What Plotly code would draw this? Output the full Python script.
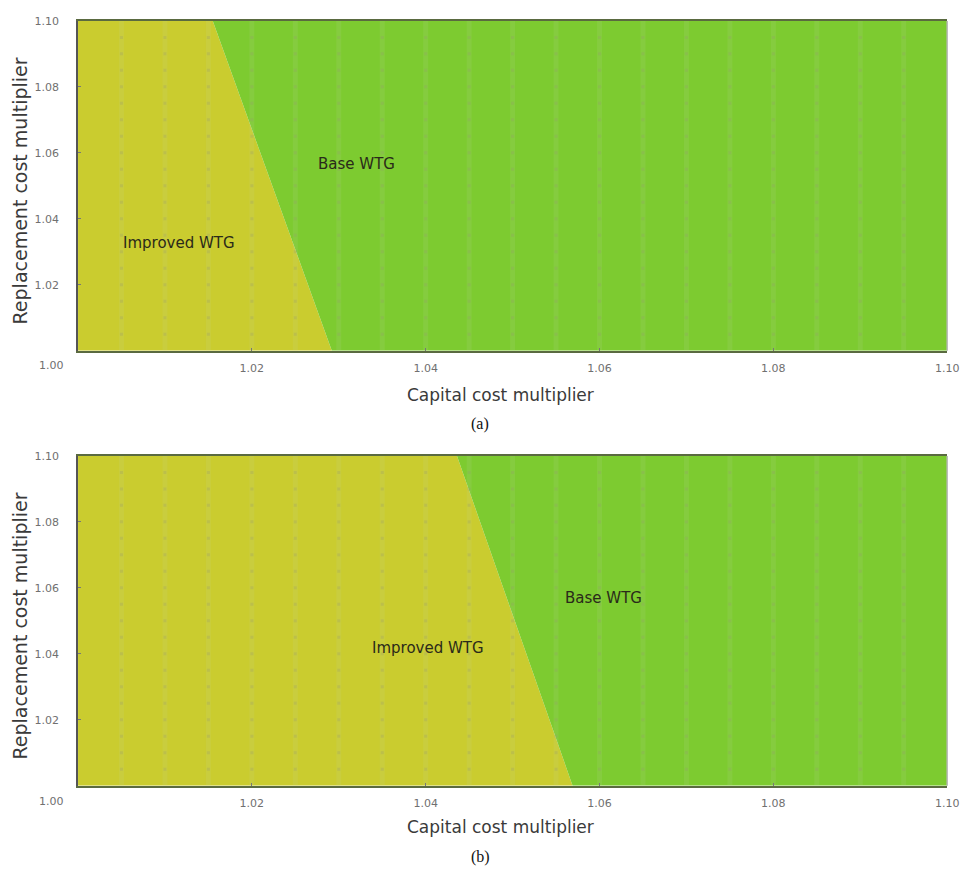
import numpy as np
import plotly.graph_objects as go

# Axis ranges and ticks
x_range = [1.00, 1.10]
y_range = [1.00, 1.10]
tick_vals = [1.02, 1.04, 1.06, 1.08, 1.10]
tick_text = ["1.02", "1.04", "1.06", "1.08", "1.10"]

# Boundary between the two preferred designs (capital cost multiplier at which
# the preference switches), given at replacement multipliers 1.00 and 1.10
boundary_repl = [1.00, 1.10]
boundary_cap_a = [1.0292, 1.0155]
boundary_cap_b = [1.0569, 1.0436]

# Region labels: (text, capital multiplier, replacement multiplier)
labels_a = [("Base WTG", 1.0320, 1.0566), ("Improved WTG", 1.0116, 1.0325)]
labels_b = [("Base WTG", 1.0605, 1.0569), ("Improved WTG", 1.0403, 1.0416)]

# Sampling grid of the sensitivity run
grid_step = 0.005

YELLOW = "#CACC2F"
GREEN = "#7DCB30"
FONT = "DejaVu Sans"

fig = go.Figure()


def add_panel(xref, yref, cap_bound):
    # Improved WTG region (left of boundary)
    xs = [x_range[0], cap_bound[0], cap_bound[1], x_range[0], x_range[0]]
    ys = [boundary_repl[0], boundary_repl[0], boundary_repl[1], boundary_repl[1], boundary_repl[0]]
    fig.add_trace(go.Scatter(x=xs, y=ys, fill="toself", fillcolor=YELLOW, mode="lines",
                             line=dict(width=0, color=YELLOW), hoverinfo="skip",
                             showlegend=False, xaxis=xref, yaxis=yref))
    # Base WTG region (right of boundary)
    xs = [cap_bound[0], x_range[1], x_range[1], cap_bound[1], cap_bound[0]]
    fig.add_trace(go.Scatter(x=xs, y=ys, fill="toself", fillcolor=GREEN, mode="lines",
                             line=dict(width=0, color=GREEN), hoverinfo="skip",
                             showlegend=False, xaxis=xref, yaxis=yref))
    # Faint vertical stripes at each sampled capital multiplier
    gx = np.arange(x_range[0] + grid_step, x_range[1] - 1e-9, grid_step)
    lx, ly = [], []
    for v in gx:
        lx += [v, v, None]
        ly += [y_range[0], y_range[1], None]
    fig.add_trace(go.Scatter(x=lx, y=ly, mode="lines",
                             line=dict(width=5, color="rgba(200,210,170,0.12)"),
                             hoverinfo="skip", showlegend=False, xaxis=xref, yaxis=yref))
    # Sample points
    gy = np.arange(y_range[0] + grid_step, y_range[1] - 1e-9, grid_step)
    px, py = np.meshgrid(gx, gy)
    fig.add_trace(go.Scatter(x=px.ravel(), y=py.ravel(), mode="markers",
                             marker=dict(symbol="square", size=3, color="rgba(150,150,110,0.25)"),
                             hoverinfo="skip", showlegend=False, xaxis=xref, yaxis=yref))


add_panel("x", "y", boundary_cap_a)
add_panel("x2", "y2", boundary_cap_b)

dom_x = [79 / 974, 959 / 974]
dom_a = [1 - 347 / 881, 1 - 15 / 881]
dom_b = [1 - 785 / 881, 1 - 453 / 881]

axis_common = dict(range=x_range, tickvals=tick_vals, ticktext=tick_text,
                   showgrid=False, zeroline=False,
                   tickfont=dict(family=FONT, size=11, color="#707070"),
                   ticks="inside", ticklen=3, tickcolor="#777777")

fig.update_layout(
    width=974, height=881,
    margin=dict(l=0, r=0, t=0, b=0),
    paper_bgcolor="white", plot_bgcolor="white",
    xaxis=dict(domain=dom_x, anchor="y", showline=True, linecolor="#5a6a40", linewidth=1.5,
               mirror=True, ticklabelstandoff=6, **axis_common),
    yaxis=dict(domain=dom_a, anchor="x", showline=True, linecolor="#555555", linewidth=1.5,
               ticklabelstandoff=15, **axis_common),
    xaxis2=dict(domain=dom_x, anchor="y2", showline=True, linecolor="#5a6a40", linewidth=1.5,
                mirror=True, ticklabelstandoff=6, **axis_common),
    yaxis2=dict(domain=dom_b, anchor="x2", showline=True, linecolor="#555555", linewidth=1.5,
                ticklabelstandoff=15, **axis_common),
)

# Light right-hand border of each panel
for dom in (dom_a, dom_b):
    fig.add_shape(type="line", xref="paper", yref="paper", x0=dom_x[1], x1=dom_x[1],
                  y0=dom[0], y1=dom[1], line=dict(color="#b8b8b8", width=1.5))

centered = dict(showarrow=False, xanchor="center", yanchor="middle")

annotations = []
for (labels, xr, yr) in ((labels_a, "x", "y"), (labels_b, "x2", "y2")):
    for text, cx, cy in labels:
        annotations.append(dict(text=text, x=cx, y=cy, xref=xr, yref=yr,
                                font=dict(family=FONT, size=15, color="#2a2a1a"), **centered))


def py(pix):
    return 1 - pix / 881


def pxx(pix):
    return pix / 974


for top, title, tick_y, xt_y, cap_y in ((15, "(a)", 362, 392, 421), (453, "(b)", 801, 827, 857)):
    bottom = top + 332
    annotations += [
        dict(text="1.00", x=pxx(52), y=py(tick_y), xref="paper", yref="paper",
             font=dict(family=FONT, size=11, color="#707070"), **centered),
        dict(text="Capital cost multiplier", x=pxx(507), y=py(xt_y), xref="paper",
             yref="paper", font=dict(family=FONT, size=17, color="#3a3a3a"), **centered),
        dict(text="Replacement cost multiplier", x=pxx(20), y=py((top + bottom) / 2 + 5),
             xref="paper", yref="paper", textangle=-90,
             font=dict(family=FONT, size=19, color="#3a3a3a"), **centered),
        dict(text=title, x=pxx(486), y=py(cap_y), xref="paper", yref="paper",
             font=dict(family="Liberation Serif", size=16, color="#111111"), **centered),
    ]

fig.update_layout(annotations=annotations)
fig.write_html("out.html")
